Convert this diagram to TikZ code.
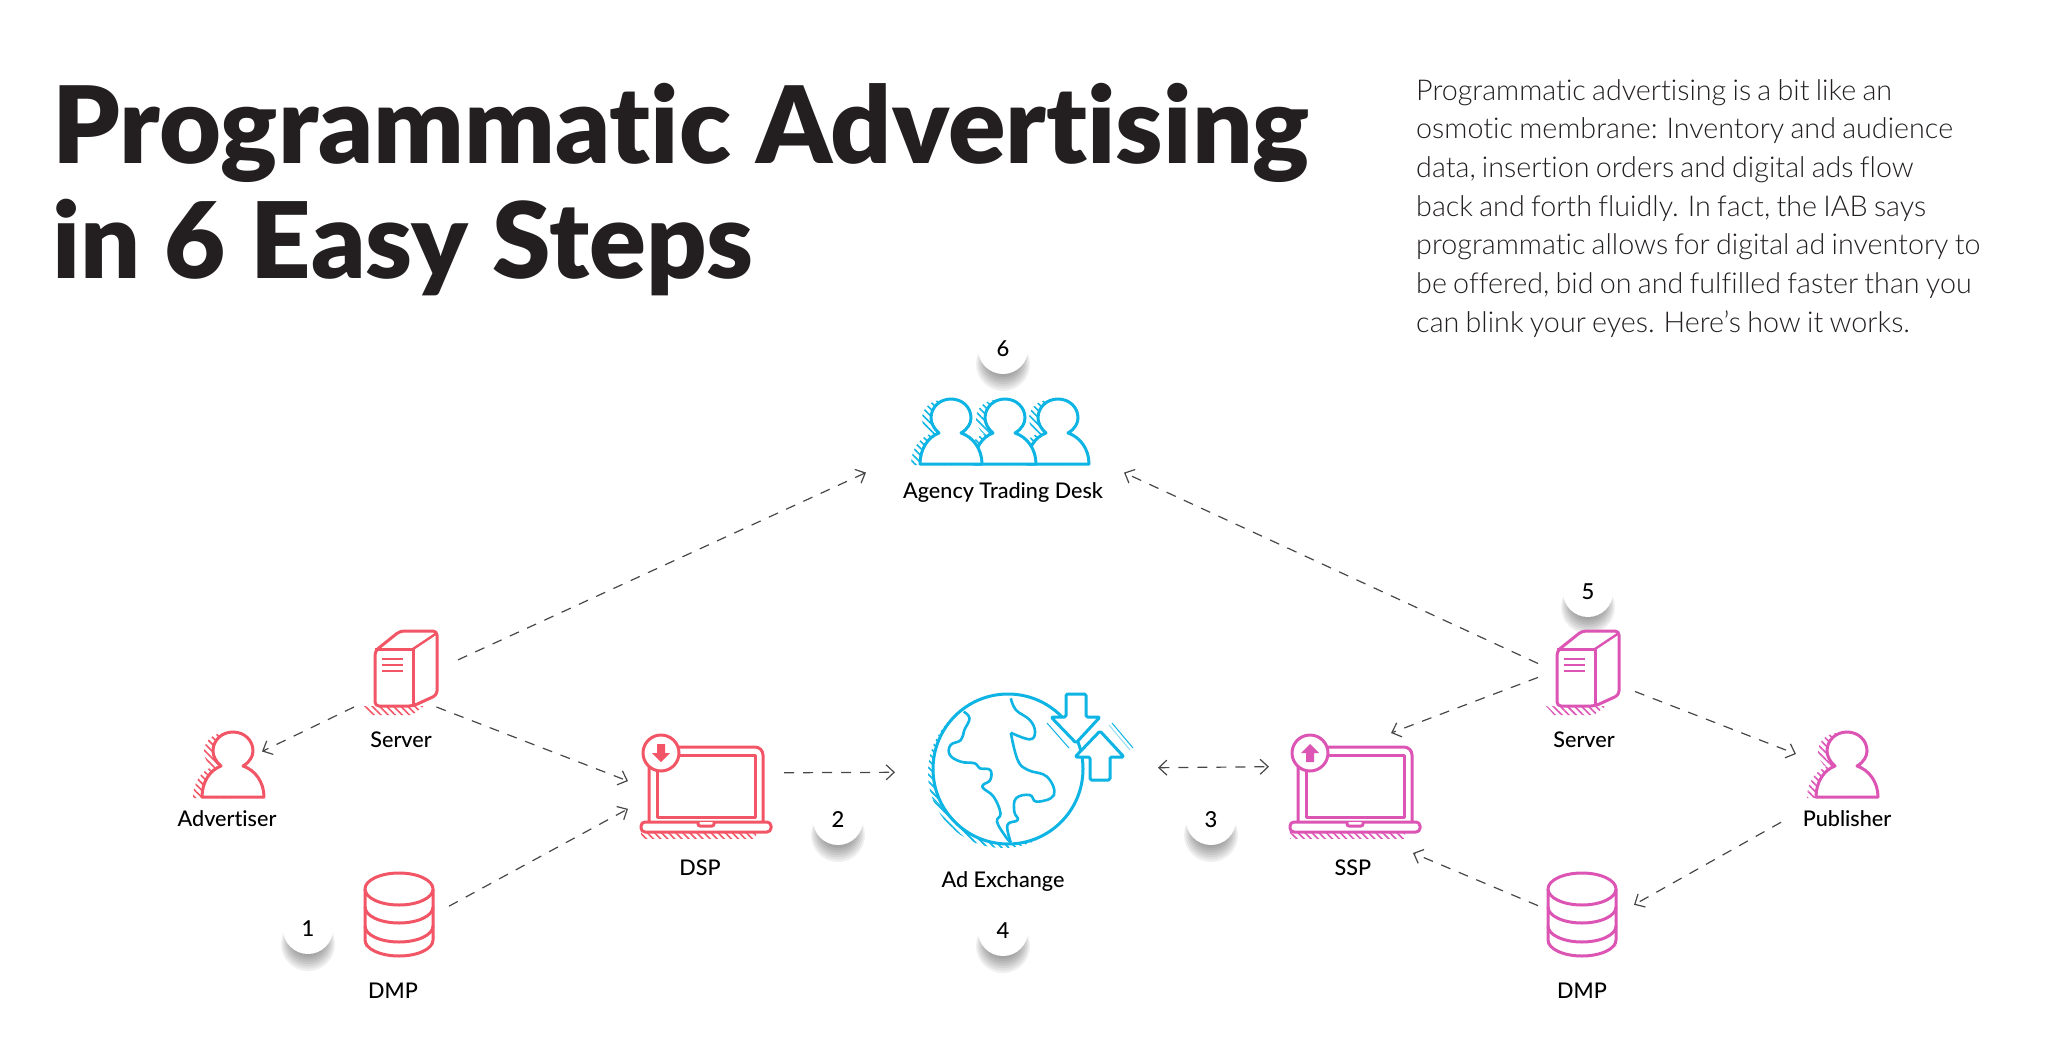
\documentclass[tikz,border=0pt]{standalone}
\usepackage{fontspec}
\setmainfont{Lato}[Ligatures=NoCommon]
\newfontfamily\headfont{Lato Black}[Ligatures=NoCommon]
\newfontfamily\bodyfont{Lato Light}[Ligatures=NoCommon,WordSpace=0.8]
\newfontfamily\labelfont{Lato Medium}[Ligatures=NoCommon]
\usetikzlibrary{arrows.meta,patterns.meta,shadows}
\definecolor{adred}{HTML}{F25565}
\definecolor{adpink}{HTML}{DC55B5}
\definecolor{adcyan}{HTML}{0DB4E4}
\definecolor{adink}{HTML}{231F20}
\colorlet{icon}{adred}
\tikzset{
  tone/.code={\colorlet{icon}{#1}},
  iconline/.style={draw=icon, line width=3pt, fill=white, line join=round},
  hatch/.style={draw=none, pattern={Lines[angle=-45,distance=5pt,line width=1.6pt]}, pattern color=icon},
  port/.style={inner sep=0pt, outer sep=0pt},
  caption/.style={font=\labelfont\fontsize{21.6}{24}\selectfont, text=black, inner sep=0pt},
  flow/.style={draw=black!72, line width=1.2pt, dash pattern=on 10pt off 9pt, -{Straight Barb[length=8pt,width=15pt,line width=1.2pt]}},
  shadowlayer/.style={general shadow={fill=black, fill opacity=.06, shadow yshift=-14pt, shadow scale=#1}},
  badge/.style={circle, fill=white, minimum size=50pt, inner sep=0pt, font=\labelfont\fontsize{22}{24}\selectfont, text=black,
    shadowlayer=1.08, shadowlayer=1.02, shadowlayer=.96, shadowlayer=.9,
    shadowlayer=.84, shadowlayer=.78, shadowlayer=.72, shadowlayer=.66},
  bust/.pic={
    \path[hatch, shift={(-9,1)}] (-31,0) .. controls (-31,-15) and (-23,-27) .. (-12,-31) .. controls (-17,-35) and (-20,-41) .. (-20,-46) .. controls (-20,-57) and (-11,-65) .. (0,-65) -- (10,-31) -- (10,0) -- cycle;
    \draw[iconline] (-31,0) -- (31,0) .. controls (31,-15) and (22,-27) .. (10,-31) .. controls (17,-35) and (20,-41) .. (20,-46) .. controls (20,-57) and (11,-65) .. (0,-65) .. controls (-11,-65) and (-20,-57) .. (-20,-46) .. controls (-20,-41) and (-17,-35) .. (-12,-31) .. controls (-23,-27) and (-31,-15) .. (-31,0) -- cycle;
  },
  tower/.pic={
    \path[hatch] (-30,0) -- (-22,9) -- (18,9) -- (30,0) -- cycle;
    \draw[iconline, rounded corners=4pt] (-19,0) -- (-19,-55) -- (6,-75) -- (43,-75) -- (43,-11) -- (19,0) -- cycle;
    \draw[iconline, fill=none] (-19,-57) -- (19,-57) -- (19,0);
    \draw[iconline, fill=none, line width=2.4pt] (19,-57) -- (43,-73);
    \foreach \rowy in {-47,-41,-35}
      \draw[iconline, fill=none, line width=2pt] (-12,\rowy) -- (9,\rowy);
  },
  drum/.pic={
    \path[hatch] (-34,0) -- (34,0) -- (34,8) arc[x radius=34, y radius=16, start angle=0, end angle=-180] -- cycle;
    \draw[iconline] (-34,-51) -- (-34,0) arc[x radius=34, y radius=-16, start angle=180, end angle=360] -- (34,-51);
    \draw[iconline] (0,-51) ellipse[x radius=34, y radius=16];
    \foreach \rowy in {-33,-14}
      \draw[iconline, fill=none] (-34,\rowy) arc[x radius=34, y radius=-16, start angle=180, end angle=360];
  },
  laptop/.pic={
    \path[hatch] (-65,0) -- (-65,6) -- (50,6) -- (50,0) -- cycle;
    \draw[iconline, rounded corners=8pt] (-57,-8) -- (-57,-85) -- (57,-85) -- (57,-8);
    \draw[iconline] (-49,-77) rectangle (49,-15);
    \draw[iconline, rounded corners=4pt] (-65,-10) -- (-65,0) -- (65,0) -- (65,-10) -- cycle;
    \draw[iconline, rounded corners=2pt] (-8,-10) -- (-8,-6) -- (8,-6) -- (8,-10);
    \draw[iconline] (-45,-79) circle[radius=18];
  },
  fatdown/.pic={
    \fill[icon] (-4,-9) -- (4,-9) -- (4,0) -- (9,0) -- (0,9) -- (-9,0) -- (-4,0) -- cycle;
  },
  blockarrow/.pic={
    \draw[iconline, rounded corners=1.5pt] (-10,-49) -- (10,-49) -- (10,-26) -- (24,-26) -- (0,0) -- (-25,-26) -- (-10,-26) -- cycle;
  }
}
\begin{document}
\begin{tikzpicture}[x=1pt, y=-1pt]
  \useasboundingbox (0,0) rectangle (2048,1041);
  % Heading and intro
  \node[anchor=base west, inner sep=0pt, text=adink, font=\headfont\fontsize{106.8}{115}\selectfont] (headA) at (52,163) {Programmatic Advertising};
  \node[anchor=base west, inner sep=0pt, text=adink, font=\headfont\fontsize{105.6}{115}\selectfont] (headB) at (52,278) {in 6 Easy Steps};
  \node[anchor=north west, inner sep=0pt, align=left, text=adink, font=\bodyfont\fontsize{28.7}{38.7}\selectfont] (intro) at (1416,79) {Programmatic advertising is a bit like an\\osmotic membrane: Inventory and audience\\data, insertion orders and digital ads flow\\back and forth fluidly. In fact, the IAB says\\programmatic allows for digital ad inventory to\\be offered, bid on and fulfilled faster than you\\can blink your eyes. Here’s how it works.};
  % Step numbers
  \node[badge] (stepA) at (308,929) {1};
  \node[badge] (stepB) at (838,820) {2};
  \node[badge] (stepC) at (1211,820) {3};
  \node[badge] (stepD) at (1003,931) {4};
  \node[badge] (stepE) at (1588,592) {5};
  \node[badge] (stepF) at (1003,349) {6};
  % Icons, red side
  \pic[tone=adred] at (233,797) {bust};
  \pic[tone=adred] at (394,706) {tower};
  \pic[tone=adred] at (399,940) {drum};
  \pic[tone=adred] at (706,832) {laptop};
  \pic[tone=adred] at (661,753) {fatdown};
  % Icons, pink side
  \pic[tone=adpink] at (1847,797) {bust};
  \pic[tone=adpink] at (1576,706) {tower};
  \pic[tone=adpink] at (1582,940) {drum};
  \pic[tone=adpink] at (1355,832) {laptop};
  \pic[tone=adpink, yscale=-1] at (1310,753) {fatdown};
  % Icons, cyan
  \pic[tone=adcyan] at (1058,464) {bust};
  \pic[tone=adcyan] at (1005,464) {bust};
  \pic[tone=adcyan] at (951,464) {bust};
  \begin{scope}[tone=adcyan]
    \path[hatch] (1003,773) circle[radius=75];
    \draw[iconline] (1008,769) circle[radius=75];
    \draw[iconline, fill=none, line width=2.6pt] plot[smooth, tension=.7] coordinates {(963.7,711.7) (969.5,718.3) (964.4,730) (960.9,740) (950.6,745) (949.9,755) (960.9,761.7) (974.7,763.3) (979.8,768.3) (990.2,770) (990.2,780) (982.3,786.7) (993.6,796.7) (1000.5,813.3) (997,821.7) (1005.7,836.7) (1010.8,842.3)};
    \draw[iconline, fill=none, line width=2.6pt] plot[smooth, tension=.7] coordinates {(1010.8,698.3) (1016,710) (1029.8,720) (1035,731.7) (1029.8,739.3) (1010.8,732.7)};
    \draw[iconline, fill=none, line width=2.6pt] plot[smooth, tension=.7] coordinates {(1010.8,732.7) (1017.7,760) (1028,770) (1047,776.7) (1053.9,795) (1036.7,801.7) (1029.8,795) (1016,798.3) (1014.3,811.7) (1017.7,820) (1007.4,825) (1010.8,842.3)};
    \draw[icon, line width=1pt] (932,797) -- (976,843);
    \draw[icon, line width=1pt] (1047,723) -- (1069,748);
    \draw[icon!45, line width=1pt] (1109,725) -- (1130,750);
    \draw[icon, line width=1pt] (1112,723) -- (1133,748);
  \end{scope}
  \pic[tone=adcyan] at (1076,743) {blockarrow};
  \pic[tone=adcyan, yscale=-1] at (1100,731) {blockarrow};
  % Labels
  \node[caption] (agencyText) at (1003,492) {Agency Trading Desk};
  \node[caption] (serverTextL) at (401,740) {Server};
  \node[caption] (advertiserText) at (227,819) {Advertiser};
  \node[caption] (dmpTextL) at (393,991) {DMP};
  \node[caption] (dspText) at (700,868) {DSP};
  \node[caption] (exchangeText) at (1003,881) {Ad Exchange};
  \node[caption] (sspText) at (1353,868) {SSP};
  \node[caption] (serverTextR) at (1584,740) {Server};
  \node[caption] (publisherText) at (1847,819) {Publisher};
  \node[caption] (dmpTextR) at (1582,991) {DMP};
  % Invisible boxes for the dashed links
  \node[port, minimum width=104pt, minimum height=87pt] (srvL) at (406,663.5) {};
  \node[port, minimum width=97pt, minimum height=87pt] (srvR) at (1586.5,663.5) {};
  \node[port, minimum width=100pt, minimum height=90pt] (dmpL) at (399,915) {};
  \node[port, minimum width=96pt, minimum height=90pt] (dmpR) at (1586,915) {};
  \node[port, minimum width=67pt, minimum height=115pt] (adv) at (228.5,742.5) {};
  \node[port, minimum width=119pt, minimum height=86pt] (pub) at (1840.5,797) {};
  \node[port, minimum width=156pt, minimum height=103pt] (dsp) at (706,786.5) {};
  \node[port, minimum width=172pt, minimum height=120pt] (ssp) at (1355,793) {};
  \node[port, minimum width=263pt, minimum height=140pt] (adx) at (1026.5,770) {};
  \node[port, minimum width=258pt, minimum height=105pt] (atd) at (995,447.5) {};
  % Dashed links
  \draw[flow] (srvL.4) -- (atd.191.6);
  \draw[flow] (srvR.180) -- (atd.-11.6);
  \draw[flow] (srvL.south west) -- (adv.-15.8);
  \draw[flow] (srvL.-55) -- (dsp.176);
  \draw[flow] (dmpL.10) -- (dsp.196.8);
  \draw[flow] (dsp.10.5) -- (adx.181);
  \draw[flow, {Straight Barb[length=8pt,width=15pt,line width=1.2pt]}-{Straight Barb[length=8pt,width=15pt,line width=1.2pt]}] (adx.1) -- (ssp.163.8);
  \draw[flow] (srvR.196.6) -- (ssp.59);
  \draw[flow] (srvR.-30.4) -- (pub.136);
  \draw[flow] (pub.203.6) -- (dmpR.12.9);
  \draw[flow] (dmpR.169.4) -- (ssp.-46.5);
\end{tikzpicture}
\end{document}
